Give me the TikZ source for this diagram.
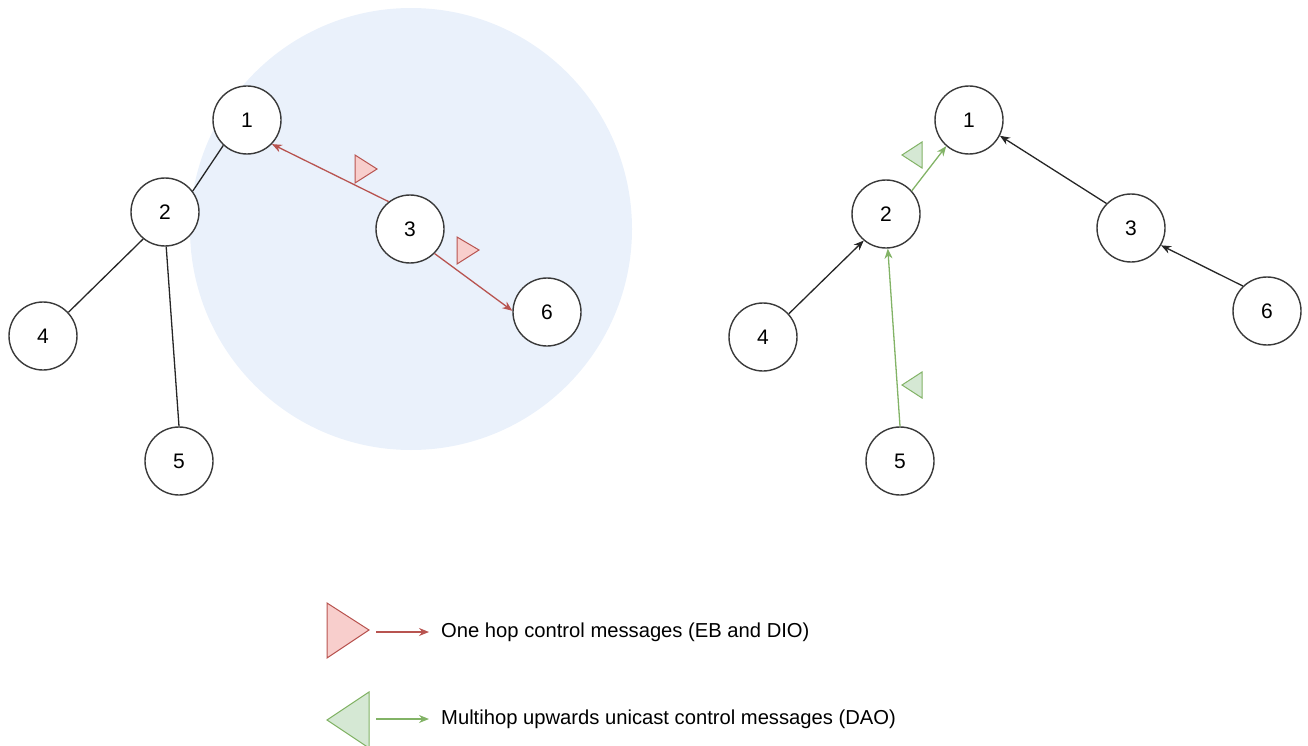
\documentclass[tikz,border=0pt]{standalone}
\usepackage{fontspec}
\setmainfont{Liberation Sans}
\usetikzlibrary{arrows.meta}
\definecolor{rangeblue}{HTML}{EAF1FB}
\definecolor{hopred}{HTML}{B85450}
\definecolor{hopredfill}{HTML}{F8CECC}
\definecolor{daogreen}{HTML}{82B366}
\definecolor{daogreenfill}{HTML}{D5E8D4}
\definecolor{nodeline}{HTML}{3A3A3A}
\tikzset{
  mote/.style={circle, draw=nodeline, line width=1.4pt, fill=white,
    minimum size=68pt, inner sep=0pt, font=\fontsize{21}{25}\selectfont},
  link/.style={draw=black!85, line width=1.3pt},
  uplink/.style={link, -{Stealth[length=10pt,width=8pt]}},
  hoparrow/.style={draw=hopred, line width=1.3pt, -{Stealth[length=10pt,width=8pt]}},
  daoarrow/.style={draw=daogreen, line width=1.3pt, -{Stealth[length=10pt,width=8pt]}},
  hopflag/.style={draw=hopred, fill=hopredfill, line width=1pt, line join=miter},
  daoflag/.style={draw=daogreen, fill=daogreenfill, line width=1pt, line join=miter},
  legendtext/.style={anchor=west, inner sep=0pt, font=\fontsize{20.2}{24}\selectfont}
}
\begin{document}
\begin{tikzpicture}[x=1pt, y=-1pt]
\useasboundingbox (0,0) rectangle (1308,746);

% radio range of node 3
\fill[rangeblue] (411,229) circle (221);

% ---- left tree: one hop broadcast from node 3 ----
\node[mote] (a1) at (247,120) {1};
\node[mote] (a2) at (165,212) {2};
\node[mote] (a3) at (410,229) {3};
\node[mote] (a4) at (43,336)  {4};
\node[mote] (a5) at (179,461) {5};
\node[mote] (a6) at (547,312) {6};

\draw[link] (a1.227) -- (a2.37);
\draw[link] (a2.231) -- (a4.43);
\draw[link] (a2.-88) -- (a5.90);
\draw[hoparrow] (a3.128) -- (a1.-44);
\draw[hoparrow] (a3.-45) -- (a6.178);

\draw[hopflag] (355,155) -- (377,169) -- (355,183) -- cycle;
\draw[hopflag] (457,237) -- (479,250) -- (457,264) -- cycle;

% ---- right tree: DAO forwarded upwards ----
\node[mote] (b1) at (969,120)  {1};
\node[mote] (b2) at (886,214)  {2};
\node[mote] (b3) at (1131,228) {3};
\node[mote] (b4) at (763,337)  {4};
\node[mote] (b5) at (900,461)  {5};
\node[mote] (b6) at (1267,311) {6};

\draw[daoarrow] (b2.42) -- (b1.229);
\draw[daoarrow] (b5.90) -- (b2.-87);
\draw[uplink] (b4.42) -- (b2.230);
\draw[uplink] (b3.135) -- (b1.-27);
\draw[uplink] (b6.134) -- (b3.-30);

\draw[daoflag] (922,142) -- (902,155) -- (922,168) -- cycle;
\draw[daoflag] (922,372) -- (902,385) -- (922,398) -- cycle;

% ---- legend ----
\draw[hopflag] (327,603) -- (369,630) -- (327,658) -- cycle;
\node[legendtext] (t1) at (441,632) {One hop control messages (EB and DIO)};
\coordinate (l1) at (376,632);
\draw[hoparrow] (l1) -- ([xshift=-12pt]t1.west);

\draw[daoflag] (369,692) -- (327,720) -- (369,748) -- cycle;
\node[legendtext] (t2) at (441,719) {Multihop upwards unicast control messages (DAO)};
\coordinate (l2) at (376,719);
\draw[daoarrow] (l2) -- ([xshift=-12pt]t2.west);
\end{tikzpicture}
\end{document}
